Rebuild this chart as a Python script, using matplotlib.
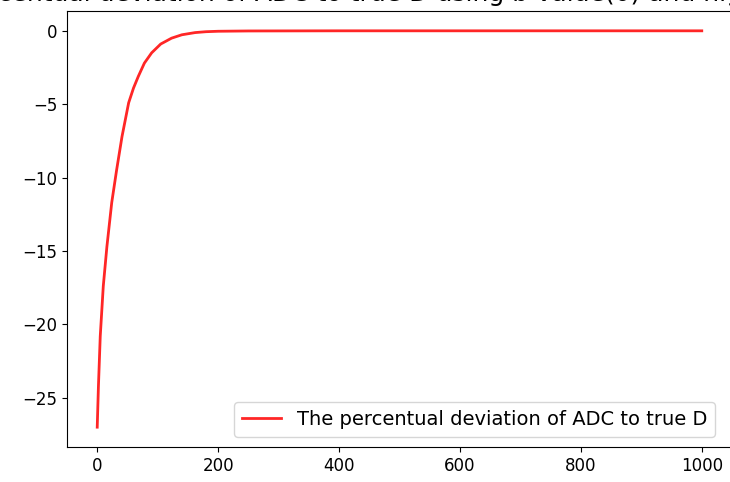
import matplotlib
matplotlib.use("Agg")
import matplotlib.pyplot as plt

# b-values (x) and percentual deviation (y)
b_values = [0, 2, 5, 10, 16, 24, 32, 41, 52, 60, 68, 78, 90, 105, 123, 140, 162, 180,
            200, 250, 400, 600, 800, 1000]
deviation = [-27.0, -24.2, -20.8, -17.4, -14.7, -11.7, -9.5, -7.2, -4.9, -3.9, -3.1,
             -2.2, -1.5, -0.9, -0.5, -0.27, -0.12, -0.06, -0.03, -0.01, 0.0, 0.0, 0.0, 0.0]

title = "The percentual deviation of ADC to true D using b-value(0) and higher b-values"

fig = plt.figure(figsize=(7.3, 4.82), dpi=100)
ax = fig.add_axes([67 / 730, 35 / 482, 665 / 730, 436 / 482])
ax.plot(b_values, deviation, color='red', alpha=0.85, linewidth=2,
        label='The percentual deviation of ADC to true D')
ax.set_title(title, fontsize=18, pad=7)
ax.legend(loc='lower right', fontsize=14, bbox_to_anchor=(0.974, 0.023),
          borderaxespad=0)
ax.tick_params(labelsize=12)
fig.savefig("out.png", dpi=100)
